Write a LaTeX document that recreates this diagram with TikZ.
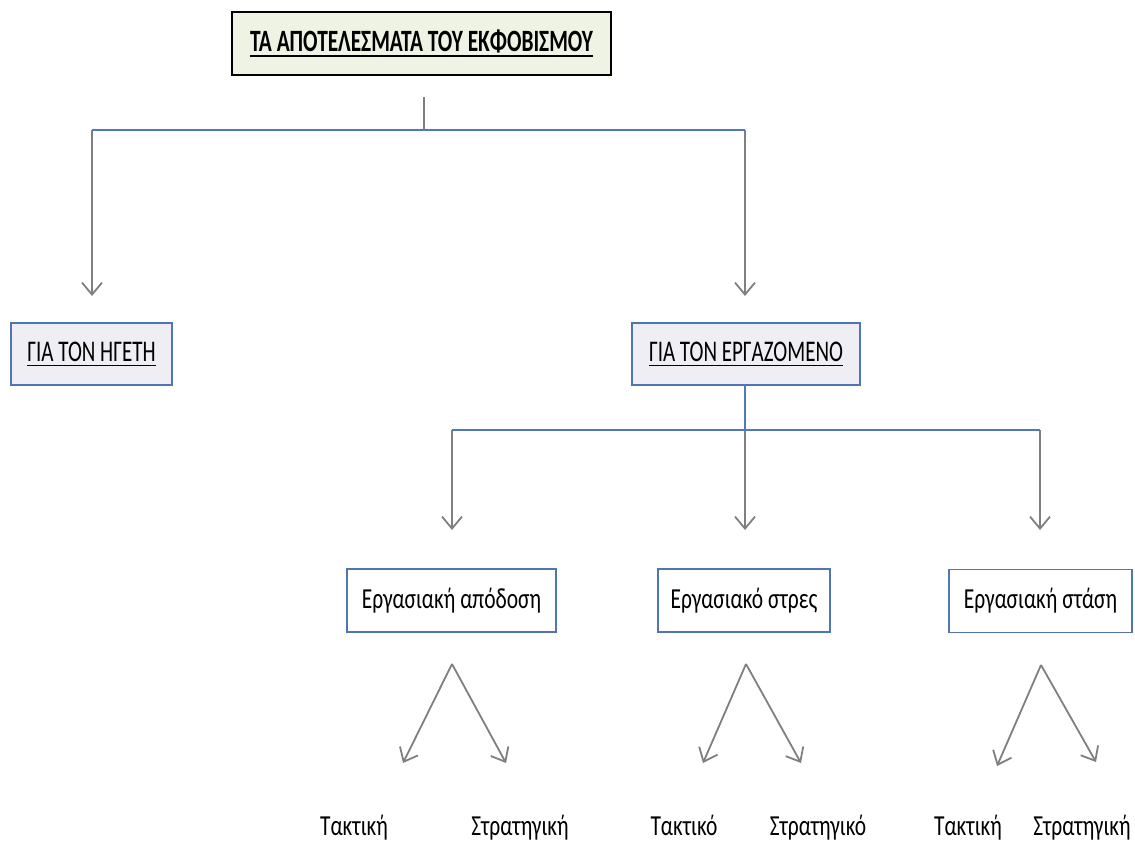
\documentclass[tikz,border=0pt]{standalone}
\usepackage{fontspec}
\setmainfont{Carlito}
\usetikzlibrary{arrows.meta}
\definecolor{conn}{HTML}{7F7F7F}
\definecolor{hline}{HTML}{4F79BD}
\definecolor{bluebd}{HTML}{5075B5}
\definecolor{topfill}{HTML}{EEF3E4}
\definecolor{midfill}{HTML}{EEEEF4}
\newcommand\ultext[3]{\setbox0=\hbox{\scalebox{#1}[1]{#2}}\rlap{\copy0}\raisebox{-#3}{\rule{\wd0}{1.6pt}}}
\newcommand\sqz[2]{\scalebox{#1}[1]{#2}}
\tikzset{
  topbox/.style={draw=black, line width=1.8pt, fill=topfill, inner sep=0pt, minimum width=379pt, minimum height=63pt, font=\fontsize{31}{31}\selectfont\bfseries},
  midbox/.style={draw=bluebd, line width=1.5pt, fill=midfill, inner sep=0pt, minimum height=62pt, font=\fontsize{30}{30}\selectfont},
  lowbox/.style={draw=bluebd, line width=1.5pt, fill=white, inner sep=0pt, minimum height=63pt, font=\fontsize{29}{29}\selectfont},
  leaf/.style={inner sep=0pt, anchor=base, font=\fontsize{29}{29}\selectfont},
  grayln/.style={draw=conn, line width=1.8pt},
  blueln/.style={draw=hline, line width=1.8pt},
  arr/.style={draw=conn, line width=1.8pt, -{Straight Barb[length=12pt,width=20pt,line width=1.8pt]}},
}
\begin{document}
\begin{tikzpicture}[x=1pt,y=-1pt]
\useasboundingbox (0,0) rectangle (1135,845);
% boxes
\node[topbox] (top) at (421.5,43.5) {\ultext{0.69}{ΤΑ ΑΠΟΤΕΛΕΣΜΑΤΑ ΤΟΥ ΕΚΦΟΒΙΣΜΟΥ}{5pt}};
\node[midbox, minimum width=161pt] (leader) at (91.5,354) {\ultext{0.7}{ΓΙΑ ΤΟΝ ΗΓΕΤΗ}{5pt}};
\node[midbox, minimum width=228pt] (worker) at (746,354) {\ultext{0.7}{ΓΙΑ ΤΟΝ ΕΡΓΑΖΟΜΕΝΟ}{5pt}};
\node[lowbox, minimum width=209pt] (perf) at (451.5,600.5) {\sqz{0.74}{Εργασιακή απόδοση}};
\node[lowbox, minimum width=172pt] (stress) at (744,600.5) {\sqz{0.74}{Εργασιακό στρες}};
\node[lowbox, minimum width=183pt] (att) at (1040.5,601) {\sqz{0.74}{Εργασιακή στάση}};
% leaves
\node[leaf] (p1) at (354,835) {\sqz{0.74}{Τακτική}};
\node[leaf] (p2) at (520,835) {\sqz{0.74}{Στρατηγική}};
\node[leaf] (s1) at (684,835) {\sqz{0.74}{Τακτικό}};
\node[leaf] (s2) at (818,835) {\sqz{0.74}{Στρατηγικό}};
\node[leaf] (a1) at (968,835) {\sqz{0.74}{Τακτική}};
\node[leaf] (a2) at (1082,835) {\sqz{0.74}{Στρατηγική}};
% coordinates
\coordinate (stem) at (424,97);
\coordinate (j1) at (424,130);
\coordinate (l1) at (92,130);
\coordinate (r1) at (745,130);
\coordinate (lt) at (92,296);
\coordinate (rt) at (745,296);
\coordinate (j2) at (745,430);
\coordinate (ws) at (745,385);
\coordinate (l2) at (452,430);
\coordinate (r2) at (1040,430);
\coordinate (l2t) at (452,530);
\coordinate (m2t) at (745,530);
\coordinate (r2t) at (1040,530);
\coordinate (pa) at (452,664);
\coordinate (sa) at (746,664);
\coordinate (aa) at (1041,665);
\coordinate (pl) at (403,763);
\coordinate (pr) at (506,763);
\coordinate (sl) at (703,763);
\coordinate (sr) at (801,763);
\coordinate (al) at (997,766);
\coordinate (ar) at (1096,762);
% connectors
\draw[grayln] (stem) -- (j1);
\draw[arr] (l1) -- (lt);
\draw[arr] (r1) -- (rt);
\draw[blueln] (l1) -- (r1);
\draw[blueln] (ws) -- (j2);
\draw[arr] (l2) -- (l2t);
\draw[arr] (j2) -- (m2t);
\draw[arr] (r2) -- (r2t);
\draw[blueln] (l2) -- (r2);
\draw[arr] (pa) -- (pl);
\draw[arr] (pa) -- (pr);
\draw[arr] (sa) -- (sl);
\draw[arr] (sa) -- (sr);
\draw[arr] (aa) -- (al);
\draw[arr] (aa) -- (ar);
\end{tikzpicture}
\end{document}
